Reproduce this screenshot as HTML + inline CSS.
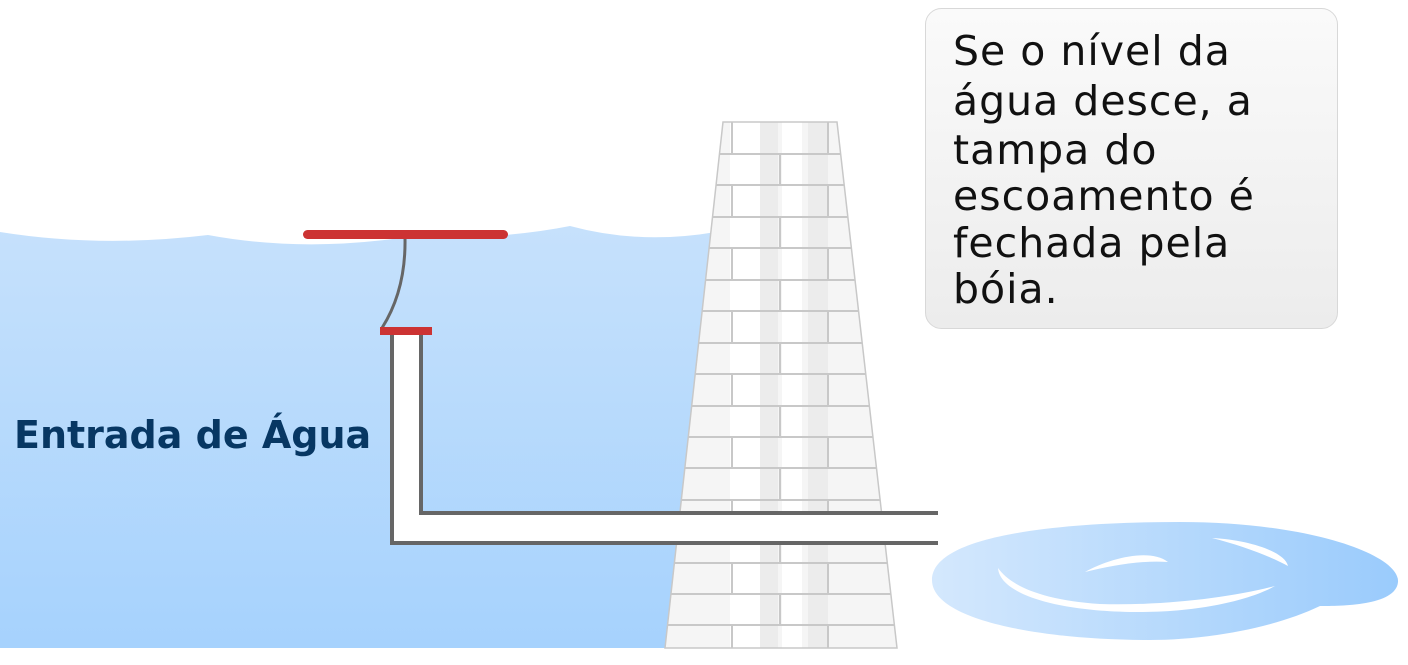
<!DOCTYPE html>
<html><head><meta charset="utf-8"><style>body{margin:0;background:#fff}svg{display:block}</style></head><body>
<svg width="1408" height="665" viewBox="0 0 1408 665" xmlns="http://www.w3.org/2000/svg">
<defs>
<linearGradient id="w" x1="0" y1="0" x2="0" y2="1"><stop offset="0" stop-color="#c6e1fc"/><stop offset="1" stop-color="#a6d2fd"/></linearGradient>
<linearGradient id="p" x1="0" y1="0" x2="1" y2="0"><stop offset="0" stop-color="#d4e8fd"/><stop offset="1" stop-color="#9acbfc"/></linearGradient>
<linearGradient id="b" x1="0" y1="0" x2="0" y2="1"><stop offset="0" stop-color="#fafafa"/><stop offset="1" stop-color="#ececec"/></linearGradient>
<clipPath id="tc"><polygon points="723,122 837,122 897,648 665,648"/></clipPath>
</defs>
<path d="M0,232 Q100,248 208,235 Q300,252 400,238 Q500,240 570,226 Q640,245 716,232 L668,648 L0,648 Z" fill="url(#w)"/>
<g clip-path="url(#tc)">
<rect x="660" y="120" width="240" height="530" fill="#f5f5f5"/>
<g fill="#ececec">
<rect x="808" y="122" width="20" height="530"/><rect x="760" y="122" width="18" height="530"/>
</g>
<g fill="#fff">
<rect x="730" y="122" width="30" height="530"/><rect x="782" y="122" width="20" height="530"/>
</g>
<g stroke="#c8c8c8" stroke-width="2">
<line x1="660" y1="154" x2="900" y2="154"/><line x1="660" y1="185" x2="900" y2="185"/><line x1="660" y1="217" x2="900" y2="217"/><line x1="660" y1="248" x2="900" y2="248"/><line x1="660" y1="280" x2="900" y2="280"/><line x1="660" y1="311" x2="900" y2="311"/><line x1="660" y1="343" x2="900" y2="343"/><line x1="660" y1="374" x2="900" y2="374"/><line x1="660" y1="406" x2="900" y2="406"/><line x1="660" y1="437" x2="900" y2="437"/><line x1="660" y1="468" x2="900" y2="468"/><line x1="660" y1="500" x2="900" y2="500"/><line x1="660" y1="531" x2="900" y2="531"/><line x1="660" y1="563" x2="900" y2="563"/><line x1="660" y1="594" x2="900" y2="594"/><line x1="660" y1="625" x2="900" y2="625"/>
<path d="M732,122V154M828,122V154M780,154V185M732,185V217M828,185V217M780,217V248M732,248V280M828,248V280M780,280V311M732,311V343M828,311V343M780,343V374M732,374V406M828,374V406M780,406V437M732,437V468M828,437V468M780,468V500M732,500V531M828,500V531M780,531V563M732,563V594M828,563V594M780,594V625M732,625V648M828,625V648"/>
</g>
</g>
<polygon points="723,122 837,122 897,648 665,648" fill="none" stroke="#c8c8c8" stroke-width="1.5"/>
<path d="M392,332 V543 H938 V513 H421 V332 Z" fill="#fff"/>
<path d="M392,332 V543 H938 M421,332 V513 H938" fill="none" stroke="#666" stroke-width="4"/>
<path d="M405,238 Q406,290 382,328" fill="none" stroke="#666" stroke-width="3"/>
<rect x="380" y="327" width="52" height="8" fill="#cc3333"/>
<rect x="303" y="230" width="205" height="9" rx="4.5" fill="#cc3333"/>
<text x="14" y="448" font-family="DejaVu Sans, sans-serif" font-weight="bold" font-size="38" fill="#073763">Entrada de Água</text>
<path d="M932,580 C932,535 1060,522 1180,522 C1310,522 1400,555 1398,582 C1396,606 1340,606 1320,606 C1270,630 1200,640 1150,640 C1040,640 932,620 932,580 Z" fill="url(#p)"/>
<path d="M998,568 C1000,595 1060,612 1140,612 C1200,612 1250,600 1275,586 C1230,598 1160,606 1100,604 C1040,600 1010,585 998,568 Z" fill="#fff"/>
<path d="M1085,572 C1110,558 1150,548 1168,562 C1140,560 1110,566 1085,572 Z" fill="#fff"/>
<path d="M1212,538 C1250,540 1285,552 1288,566 C1270,556 1240,545 1212,538 Z" fill="#fff"/>
<rect x="925.5" y="8.5" width="412" height="320" rx="16" fill="url(#b)" stroke="#d8d8d8"/>
<g font-family="DejaVu Sans, Liberation Sans, sans-serif" font-size="41" fill="#111" letter-spacing="1">
<text x="953" y="65">Se o nível da</text>
<text x="953" y="115">água desce, a</text>
<text x="953" y="164">tampa do</text>
<text x="953" y="210">escoamento é</text>
<text x="953" y="257">fechada pela</text>
<text x="953" y="303">bóia.</text>
</g>
</svg>
</body></html>
